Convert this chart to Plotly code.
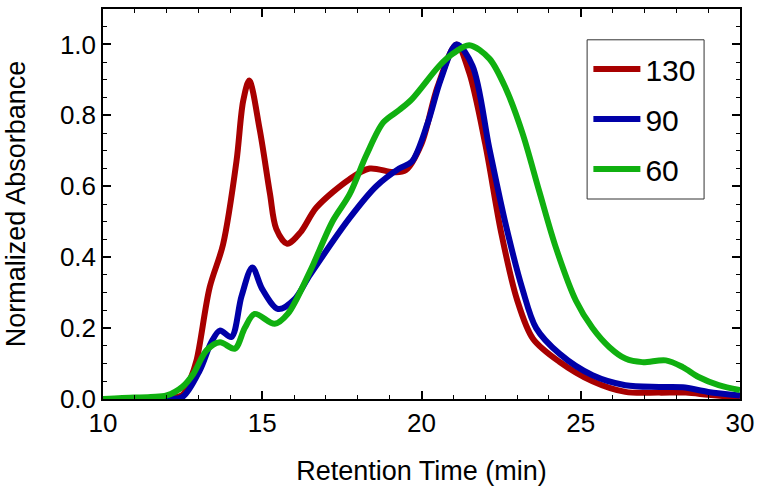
import plotly.graph_objects as go

# Retention time (min) and normalized absorbance for each series
x_130 = [10, 11, 12, 12.5, 12.73, 12.94, 13.35, 13.77, 14.19, 14.4, 14.59, 14.92, 15.24, 15.44, 15.78,
         16.2, 16.7, 17.74, 18.37, 19.1, 19.5, 20.0, 20.5, 21.1, 21.5, 22.0, 22.5, 23.0, 23.5,
         24.33, 25.37, 26.4, 27.46, 28.3, 29.0, 30.0]
y_130 = [0, 0, 0.002, 0.012, 0.053, 0.11, 0.315, 0.436, 0.67, 0.84, 0.898, 0.76, 0.58, 0.48, 0.438,
         0.47, 0.54, 0.62, 0.65, 0.64, 0.645, 0.72, 0.88, 1.0, 0.92, 0.72, 0.47, 0.28, 0.17,
         0.105, 0.05, 0.02, 0.018, 0.018, 0.012, 0.004]

x_90 = [10, 11, 12, 12.5, 13.04, 13.4, 13.67, 14.03, 14.35, 14.69, 15.0, 15.5, 16.0, 16.5, 17.74,
        18.58, 19.3, 19.7, 20.2, 20.6, 21.1, 21.6, 22.13, 22.65, 23.17, 23.6, 24.33, 25.37,
        26.4, 27.46, 28.2, 29.0, 30.0]
y_90 = [0, 0, 0, 0.006, 0.081, 0.16, 0.193, 0.175, 0.29, 0.371, 0.31, 0.254, 0.28, 0.35, 0.51,
        0.60, 0.65, 0.67, 0.78, 0.9, 1.0, 0.94, 0.707, 0.49, 0.31, 0.2, 0.128, 0.067,
        0.039, 0.034, 0.033, 0.02, 0.01]

x_60 = [10, 10.6, 11.5, 12.0, 12.5, 12.83, 13.25, 13.67, 14.14, 14.45, 14.76, 15.39, 15.8, 16.5,
        17.2, 17.74, 18.27, 18.8, 19.3, 19.7, 20.56, 21.0, 21.5, 22.13, 22.65, 23.17, 23.7,
        24.22, 24.85, 25.37, 25.9, 26.4, 26.93, 27.67, 28.2, 28.7, 29.33, 30.0]
y_60 = [0, 0.003, 0.006, 0.01, 0.035, 0.07, 0.137, 0.16, 0.142, 0.2, 0.24, 0.212, 0.24, 0.36,
        0.50, 0.577, 0.688, 0.78, 0.815, 0.846, 0.94, 0.975, 0.998, 0.96, 0.875, 0.75, 0.585,
        0.427, 0.277, 0.2, 0.146, 0.114, 0.104, 0.109, 0.09, 0.062, 0.039, 0.025]

series_names = ["130", "90", "60"]
series_colors = ["#A80000", "#0000A8", "#10B010"]

fig = go.Figure()
for name, xs, ys, col in zip(series_names, [x_130, x_90, x_60], [y_130, y_90, y_60], series_colors):
    fig.add_trace(go.Scatter(
        x=xs, y=ys, mode="lines", name=name, legendgroup=name,
        line=dict(color=col, width=6, shape="spline", smoothing=0.9),
    ))

font_family = "Liberation Sans, Arial, sans-serif"

axis_common = dict(
    showline=True, linecolor="black", linewidth=1.5, mirror="ticks",
    ticks="inside", ticklen=8, tickwidth=1.5, tickcolor="black",
    showgrid=False, zeroline=False,
    tickfont=dict(family=font_family, size=26, color="black"),
)

fig.update_xaxes(
    range=[10, 30], dtick=5, tick0=10,
    minor=dict(dtick=1, ticks="inside", ticklen=4, tickwidth=1.2, tickcolor="black", showgrid=False),
    title=dict(text="Retention Time (min)", font=dict(family=font_family, size=27, color="black"), standoff=24),
    **axis_common,
)
fig.update_yaxes(
    range=[0, 1.1], dtick=0.2, tick0=0, tickformat=".1f",
    minor=dict(dtick=0.05, ticks="inside", ticklen=4, tickwidth=1.2, tickcolor="black", showgrid=False),
    title=dict(text="Normalized Absorbance", font=dict(family=font_family, size=27, color="black"), standoff=26),
    **axis_common,
)

# legend frame drawn as a rectangle in paper coordinates
fig.add_shape(type="rect", xref="paper", yref="paper",
              x0=0.760, x1=0.9436, y0=0.5128, y1=0.921,
              line=dict(color="#333333", width=1), fillcolor="white", layer="below")

fig.update_layout(
    width=761, height=492,
    margin=dict(l=103, r=20, t=7, b=93),
    plot_bgcolor="white", paper_bgcolor="white",
    legend=dict(
        x=0.762, y=0.913, xanchor="left", yanchor="top",
        borderwidth=0, bgcolor="rgba(0,0,0,0)",
        font=dict(family=font_family, size=30, color="black"),
        tracegroupgap=8, traceorder="grouped", itemwidth=47,
    ),
)

fig.write_html("out.html", post_script="document.body.style.margin='0';",
               config={"displayModeBar": False})
